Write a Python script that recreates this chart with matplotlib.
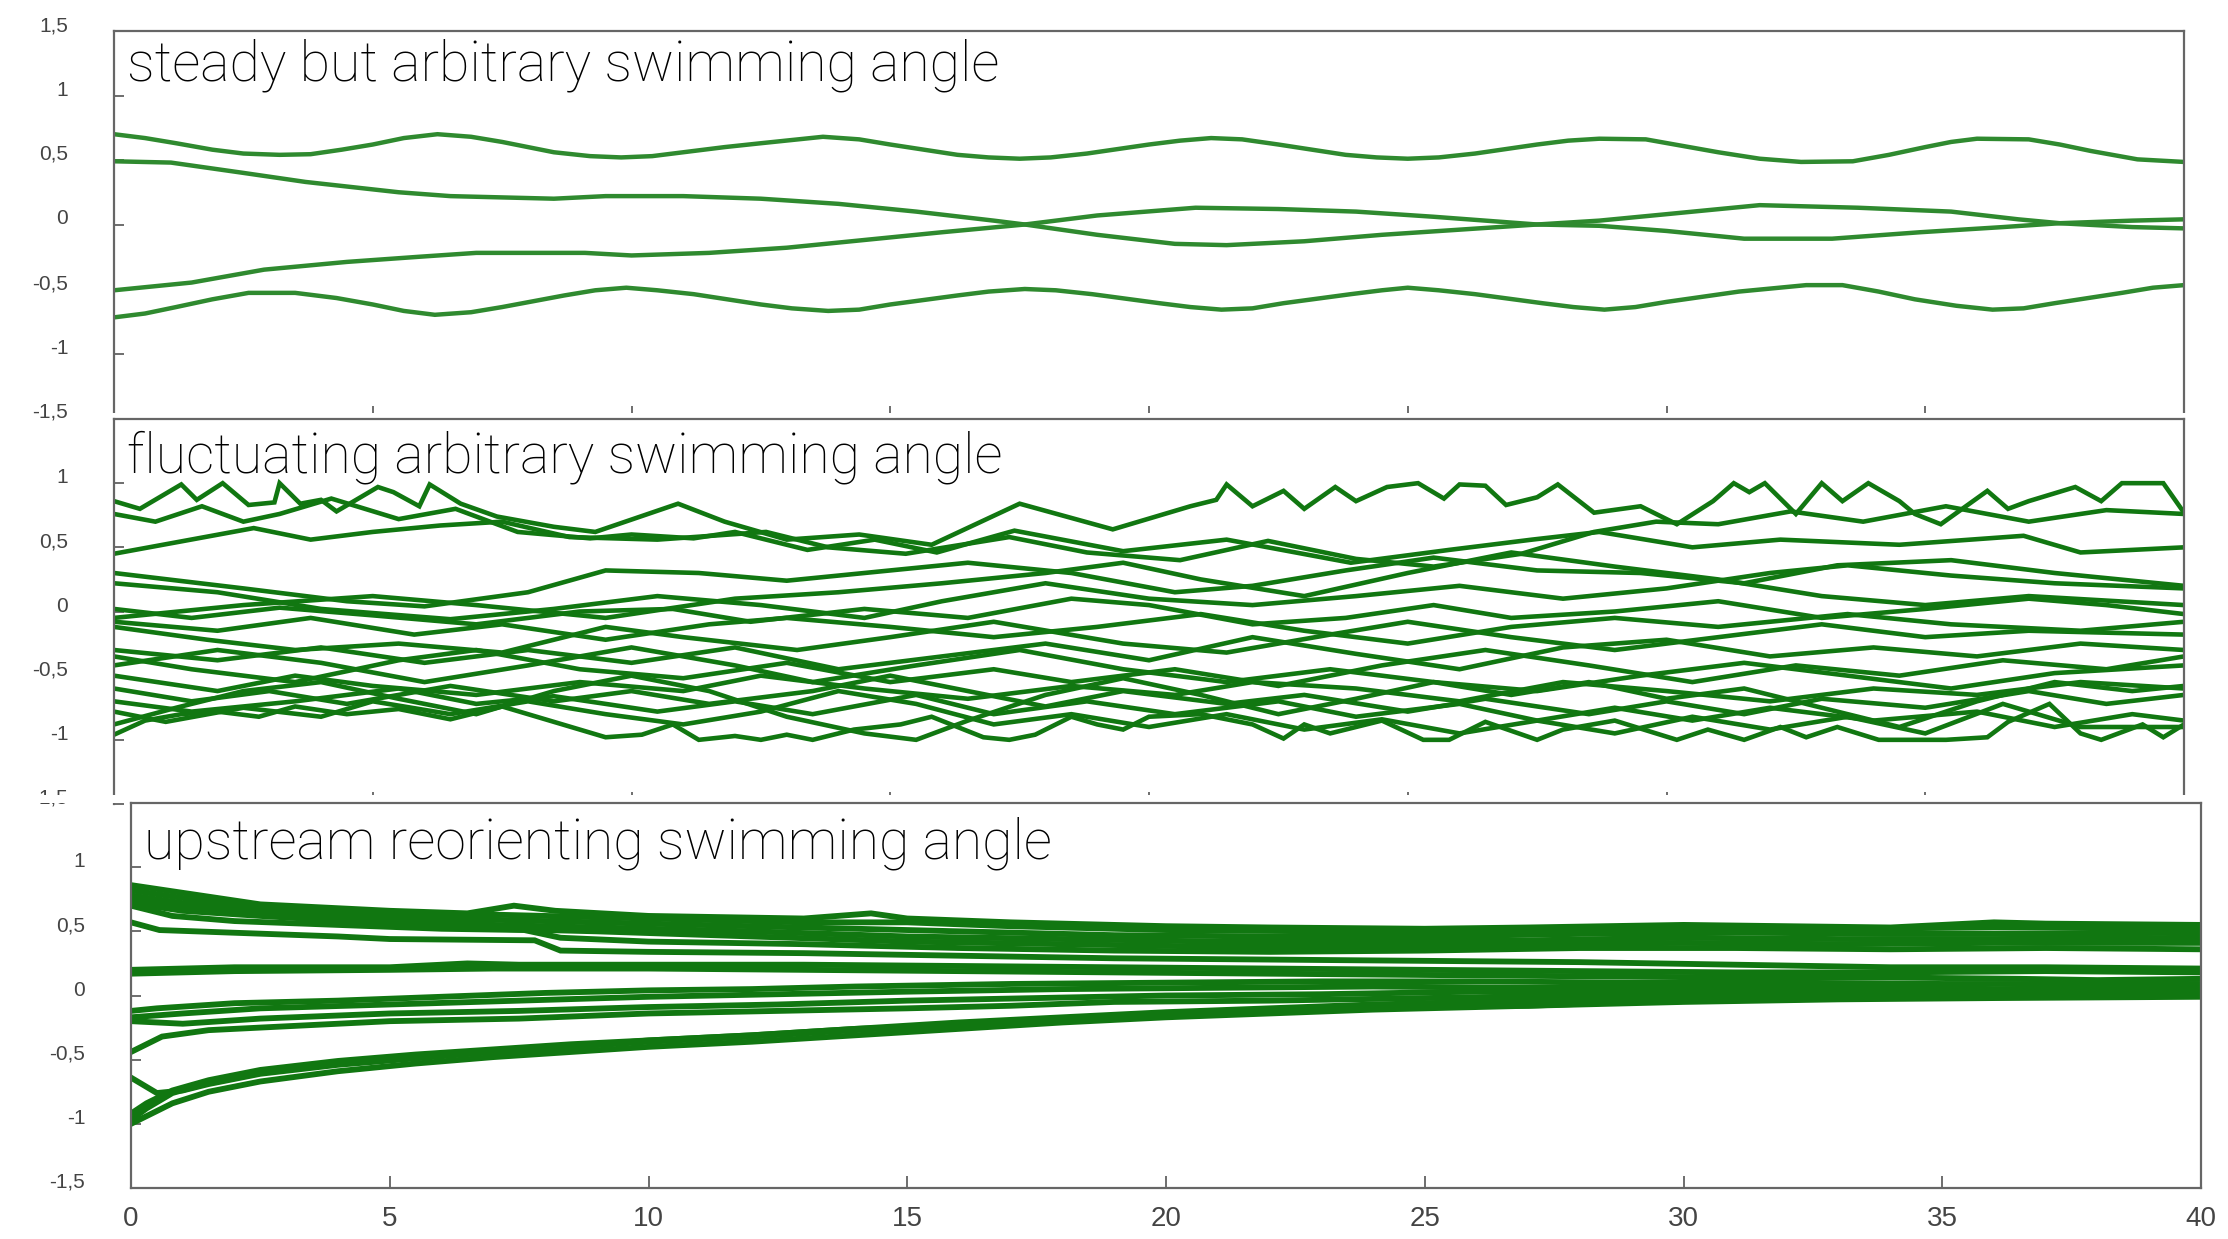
import matplotlib.pyplot as plt
from matplotlib.patches import Rectangle

# titles of the three panels
titles = ['steady but arbitrary swimming angle',
          'fluctuating arbitrary swimming angle',
          'upstream reorienting swimming angle']

y_ticks = [-1.5, -1, -0.5, 0, 0.5, 1, 1.5]
x_ticks = [0, 5, 10, 15, 20, 25, 30, 35, 40]

# panel 1: steady swimmers, (time, angle) points
steady_a = [(0, 0.70), (0.6, 0.67), (1.2, 0.63), (1.9, 0.58), (2.5, 0.55), (3.2, 0.54),
            (3.8, 0.545), (4.4, 0.58), (5.0, 0.62), (5.6, 0.67), (6.25, 0.70), (6.9, 0.68),
            (7.5, 0.64), (8.5, 0.56), (9.2, 0.53), (9.8, 0.52), (10.4, 0.53), (11, 0.56),
            (11.8, 0.60), (12.5, 0.63), (13.7, 0.68), (14.4, 0.66), (15, 0.62), (16.3, 0.54),
            (16.9, 0.52), (17.5, 0.51), (18.1, 0.52), (18.8, 0.55), (20, 0.62), (20.6, 0.65),
            (21.2, 0.67), (21.8, 0.66), (22.5, 0.62), (23.8, 0.54), (24.4, 0.52), (25, 0.51),
            (25.6, 0.52), (26.3, 0.55), (27.5, 0.62), (28.1, 0.65), (28.7, 0.665), (29.6, 0.66),
            (30.3, 0.61), (31, 0.56), (31.8, 0.51), (32.6, 0.485), (33.6, 0.49), (34.3, 0.54),
            (35, 0.60), (35.5, 0.64), (36.0, 0.665), (37, 0.66), (37.6, 0.62), (38.2, 0.57),
            (39.1, 0.505), (40, 0.485)]
steady_b = [(0, 0.49), (1.1, 0.48), (2.5, 0.40), (3.7, 0.33), (5.5, 0.25), (6.5, 0.22),
            (7.5, 0.21), (8.5, 0.20), (9.5, 0.22), (11, 0.22), (12.5, 0.20), (14, 0.16),
            (15.5, 0.10), (17, 0.03), (17.6, 0.0), (19, -0.08), (20.5, -0.15), (21.5, -0.16),
            (23, -0.13), (24.5, -0.08), (26, -0.04), (27.5, 0.0), (28.7, 0.03), (30, 0.08),
            (31.8, 0.15), (33.7, 0.13), (35.5, 0.10), (36.8, 0.04), (37.6, 0.01), (39, -0.02),
            (40, -0.03)]
steady_c = [(0, -0.51), (1.5, -0.45), (2.9, -0.35), (4.5, -0.29), (5.9, -0.25), (7, -0.22),
            (9.1, -0.22), (10, -0.24), (11.5, -0.22), (13, -0.18), (14.5, -0.12), (16, -0.06),
            (17.6, 0.0), (19, 0.07), (20.9, 0.13), (22.5, 0.12), (24, 0.10), (25.5, 0.06),
            (27.5, 0.0), (28.7, -0.01), (30, -0.05), (31.5, -0.11), (33.2, -0.11), (34.9, -0.06),
            (36.5, -0.02), (37.6, 0.01), (39, 0.03), (40, 0.04)]
steady_d = [(0, -0.72), (0.6, -0.69), (1.2, -0.64), (1.9, -0.58), (2.6, -0.53), (3.5, -0.53),
            (4.3, -0.57), (5.0, -0.62), (5.6, -0.67), (6.2, -0.70), (6.9, -0.68), (7.5, -0.64),
            (8.7, -0.55), (9.3, -0.51), (9.9, -0.49), (10.5, -0.51), (11.2, -0.54), (12.5, -0.62),
            (13.1, -0.65), (13.8, -0.67), (14.4, -0.66), (15, -0.62), (16.3, -0.55), (16.9, -0.52),
            (17.6, -0.50), (18.2, -0.51), (18.9, -0.54), (20.2, -0.61), (20.8, -0.64), (21.4, -0.66),
            (22.0, -0.65), (22.6, -0.61), (23.9, -0.54), (24.5, -0.51), (25, -0.49), (25.6, -0.51),
            (26.3, -0.54), (27.6, -0.61), (28.2, -0.64), (28.8, -0.66), (29.4, -0.64), (30, -0.60),
            (31.4, -0.52), (32.7, -0.47), (33.4, -0.47), (34.1, -0.52), (34.8, -0.58),
            (35.6, -0.63), (36.3, -0.66), (36.9, -0.65), (37.5, -0.61), (38.8, -0.53),
            (39.4, -0.49), (40, -0.47)]
steady = [steady_a, steady_b, steady_c, steady_d]

# panel 2: fluctuating swimmers
fluct = [
    [(0, 0.86), (0.5, 0.80), (1.3, 0.99), (1.6, 0.87), (2.1, 1.0), (2.6, 0.83), (3.1, 0.85),
     (3.2, 1.0), (3.6, 0.84), (4.0, 0.87), (4.3, 0.78), (5.1, 0.97), (5.4, 0.93), (5.9, 0.82),
     (6.1, 0.99), (6.7, 0.84), (7.4, 0.74), (8.5, 0.66), (9.3, 0.62), (10.9, 0.84), (11.8, 0.70),
     (13.0, 0.56), (14.4, 0.60), (15.8, 0.52), (17.5, 0.84), (19.3, 0.64), (20.8, 0.82),
     (21.3, 0.87), (21.5, 0.99), (22.0, 0.82), (22.6, 0.94), (23.0, 0.80), (23.6, 0.97),
     (24.0, 0.86), (24.6, 0.97), (25.2, 1.0), (25.7, 0.88), (26.0, 0.99), (26.5, 0.98),
     (26.9, 0.83), (27.5, 0.89), (27.9, 0.99), (28.6, 0.77), (29.5, 0.82), (30.2, 0.68),
     (30.9, 0.86), (31.3, 1.0), (31.6, 0.93), (31.9, 1.0), (32.5, 0.76), (33.0, 1.0),
     (33.4, 0.86), (33.9, 1.0), (34.5, 0.86), (34.8, 0.76), (35.3, 0.68), (36.2, 0.94),
     (36.6, 0.80), (37.0, 0.86), (37.9, 0.97), (38.4, 0.86), (38.8, 1.0), (39.6, 1.0), (40, 0.77)],
    [(0, 0.76), (0.8, 0.70), (1.7, 0.82), (2.5, 0.70), (3.2, 0.76), (4.2, 0.88), (5.5, 0.72),
     (6.6, 0.80), (7.8, 0.62), (9.2, 0.57), (10.0, 0.60), (11.2, 0.57), (12.0, 0.62), (13.4, 0.48),
     (14.7, 0.56), (15.9, 0.46), (17.4, 0.63), (19.5, 0.47), (21.5, 0.56), (23.9, 0.38),
     (25.8, 0.48), (27.4, 0.56), (28.7, 0.62), (30.5, 0.50), (32.2, 0.56), (34.5, 0.52),
     (36.9, 0.59), (38.0, 0.46), (40, 0.50)],
    [(0, 0.45), (2.7, 0.65), (3.8, 0.56), (5.0, 0.62), (6.3, 0.67), (7.5, 0.70), (8.8, 0.58),
     (10.5, 0.56), (12.6, 0.62), (13.8, 0.50), (15.3, 0.45), (17.3, 0.58), (18.8, 0.46),
     (20.6, 0.40), (22.3, 0.55), (24.0, 0.41), (25.5, 0.35), (27.2, 0.45), (28.6, 0.62),
     (29.8, 0.70), (31.0, 0.68), (32.4, 0.78), (33.8, 0.70), (35.4, 0.82), (37.0, 0.70),
     (38.5, 0.79), (40, 0.76)],
    [(0, 0.30), (2.5, 0.18), (4.5, 0.08), (6.0, 0.04), (8.0, 0.15), (9.5, 0.32), (11.3, 0.30),
     (13.0, 0.24), (14.5, 0.30), (16.5, 0.38), (18.5, 0.30), (20.5, 0.15), (22.0, 0.20),
     (23.8, 0.32), (25.5, 0.42), (27.5, 0.32), (29.5, 0.30), (31.5, 0.22), (33.3, 0.36),
     (35.5, 0.40), (37.5, 0.30), (40, 0.20)],
    [(0, 0.22), (2.0, 0.15), (4.0, 0.02), (6.5, -0.06), (8.5, 0.02), (10.5, 0.12), (12.5, 0.05),
     (14.5, -0.05), (16.0, 0.08), (18.0, 0.22), (20.0, 0.10), (22.0, 0.05), (24.0, 0.12),
     (26.0, 0.20), (28.0, 0.10), (30.0, 0.18), (32.0, 0.30), (33.5, 0.36), (35.5, 0.28),
     (37.5, 0.22), (40, 0.18)],
    [(0, 0.02), (1.5, -0.05), (3.2, 0.03), (5.0, -0.03), (7.0, -0.10), (9.0, 0.0), (10.8, 0.02),
     (12.3, -0.08), (14.5, 0.02), (16.5, -0.05), (18.5, 0.10), (20.0, 0.05), (22.0, -0.10),
     (23.8, -0.05), (25.5, 0.05), (27.0, -0.05), (29.0, 0.0), (31.0, 0.08), (33.0, -0.05),
     (35.0, 0.02), (37.0, 0.10), (38.5, 0.05), (40, -0.02)],
    [(0, -0.08), (2.0, -0.15), (3.8, -0.05), (5.8, -0.18), (7.5, -0.10), (9.5, -0.22),
     (11.5, -0.10), (13.0, -0.05), (15.0, -0.12), (17.0, -0.20), (19.0, -0.12), (21.0, -0.02),
     (23.0, -0.15), (25.0, -0.25), (27.0, -0.12), (29.0, -0.05), (31.0, -0.12), (33.5, -0.02),
     (35.5, -0.10), (38.0, -0.15), (40, -0.08)],
    [(0, -0.12), (1.8, -0.22), (3.5, -0.30), (5.5, -0.25), (7.5, -0.32), (9.5, -0.12),
     (11.0, -0.20), (13.2, -0.30), (15.0, -0.20), (17.0, -0.08), (19.5, -0.25), (21.5, -0.32),
     (23.5, -0.18), (25.0, -0.08), (27.0, -0.20), (29.0, -0.30), (31.0, -0.20), (33.0, -0.10),
     (35.0, -0.20), (37.0, -0.15), (40, -0.18)],
    [(0, -0.30), (2.0, -0.38), (4.0, -0.28), (6.0, -0.40), (8.0, -0.30), (10.0, -0.40),
     (12.0, -0.28), (14.0, -0.45), (16.0, -0.35), (18.0, -0.25), (20.0, -0.38), (22.0, -0.20),
     (24.0, -0.33), (26.0, -0.45), (28.0, -0.28), (30.0, -0.22), (32.0, -0.35), (34.0, -0.28),
     (36.0, -0.35), (38.0, -0.25), (40, -0.30)],
    [(0, -0.35), (1.5, -0.45), (3.5, -0.55), (5.5, -0.38), (7.0, -0.30), (9.0, -0.45),
     (11.0, -0.52), (13.0, -0.40), (15.0, -0.55), (17.0, -0.45), (18.5, -0.55), (20.5, -0.45),
     (22.5, -0.58), (24.5, -0.42), (26.5, -0.30), (28.5, -0.42), (30.5, -0.55), (32.5, -0.42),
     (34.5, -0.50), (36.5, -0.38), (38.5, -0.45), (40, -0.35)],
    [(0, -0.42), (2.0, -0.30), (4.0, -0.40), (6.0, -0.55), (8.0, -0.42), (10.0, -0.28),
     (12.0, -0.42), (13.5, -0.55), (15.5, -0.42), (17.5, -0.30), (19.5, -0.45), (21.5, -0.55),
     (23.5, -0.45), (25.5, -0.55), (27.5, -0.62), (29.5, -0.50), (31.5, -0.40), (33.5, -0.50),
     (35.5, -0.60), (37.5, -0.48), (40, -0.42)],
    [(0, -0.50), (2.0, -0.62), (3.5, -0.50), (5.0, -0.58), (7.0, -0.65), (9.0, -0.55),
     (11.0, -0.62), (12.5, -0.50), (14.5, -0.60), (16.5, -0.68), (18.5, -0.58), (20.5, -0.65),
     (22.0, -0.55), (24.0, -0.60), (26.0, -0.70), (28.0, -0.55), (30.0, -0.62), (32.0, -0.70),
     (34.0, -0.60), (36.0, -0.65), (38.0, -0.55), (40, -0.60)],
    [(0, -0.60), (1.5, -0.70), (3.0, -0.62), (4.5, -0.72), (6.5, -0.58), (8.5, -0.70),
     (10.0, -0.62), (11.5, -0.72), (13.5, -0.62), (15.0, -0.50), (16.5, -0.62), (18.0, -0.74),
     (19.5, -0.62), (21.5, -0.72), (23.0, -0.65), (25.0, -0.78), (26.5, -0.68), (28.5, -0.80),
     (30.0, -0.70), (31.5, -0.80), (33.0, -0.68), (35.0, -0.75), (37.0, -0.62), (38.5, -0.72),
     (40, -0.65)],
    [(0, -0.70), (1.5, -0.78), (3.5, -0.70), (5.5, -0.60), (7.0, -0.72), (8.5, -0.66),
     (10.5, -0.78), (12.0, -0.70), (13.5, -0.80), (15.5, -0.65), (17.0, -0.80), (18.8, -0.70),
     (20.5, -0.80), (22.5, -0.70), (24.0, -0.82), (26.0, -0.72), (27.5, -0.85), (29.0, -0.75),
     (30.5, -0.85), (32.0, -0.75), (34.0, -0.85), (36.0, -0.78), (37.5, -0.90), (39.0, -0.80),
     (40, -0.85)],
    [(0, -0.78), (1.0, -0.86), (2.5, -0.75), (4.0, -0.82), (5.0, -0.70), (6.5, -0.80),
     (8.0, -0.70), (9.5, -0.80), (11.0, -0.88), (12.5, -0.78), (14.0, -0.62), (15.5, -0.72),
     (17.0, -0.88), (18.5, -0.80), (20.0, -0.90), (21.5, -0.80), (23.0, -0.92), (24.5, -0.84),
     (26.0, -0.95), (27.5, -0.85), (29.0, -0.95), (30.5, -0.82), (32.0, -0.92), (33.5, -0.82),
     (35.0, -0.95), (36.5, -0.72), (38.0, -0.90), (40, -0.90)],
    [(0, -0.96), (0.6, -0.85), (1.3, -0.80), (2.0, -0.78), (2.8, -0.82), (3.5, -0.74),
     (4.5, -0.80), (5.5, -0.76), (6.5, -0.84), (7.5, -0.74), (8.5, -0.86), (9.5, -0.98),
     (10.2, -0.96), (10.8, -0.88), (11.3, -1.0), (12.0, -0.97), (12.5, -1.0), (13.0, -0.96),
     (13.5, -1.0), (14.3, -0.92), (15.2, -0.88), (15.8, -0.82), (16.8, -0.98), (17.3, -1.0),
     (17.8, -0.96), (18.5, -0.82), (19.0, -0.88), (19.5, -0.92), (20.0, -0.82), (21.0, -0.80),
     (22.0, -0.88), (22.6, -0.99), (23.0, -0.88), (23.5, -0.95), (24.5, -0.85), (25.3, -1.0),
     (25.8, -1.0), (26.5, -0.86), (27.5, -1.0), (28.0, -0.92), (29.0, -0.85), (30.2, -1.0),
     (30.8, -0.92), (31.5, -1.0), (32.2, -0.90), (32.7, -0.98), (33.3, -0.90), (34.1, -1.0),
     (35.4, -1.0), (36.2, -0.98), (36.6, -0.86), (37.4, -0.72), (38.0, -0.95), (38.4, -1.0),
     (39.2, -0.88), (39.6, -0.98), (40, -0.88)],
    [(0, -0.88), (1.2, -0.75), (2.5, -0.62), (4.0, -0.55), (5.5, -0.68), (7.0, -0.80),
     (8.5, -0.62), (10.0, -0.50), (11.5, -0.62), (13.0, -0.82), (14.5, -0.95), (15.5, -1.0),
     (16.5, -0.85), (18.0, -0.65), (19.5, -0.52), (21.0, -0.65), (22.5, -0.80), (24.0, -0.68),
     (25.5, -0.55), (27.0, -0.65), (28.5, -0.55), (30.0, -0.68), (31.5, -0.60), (33.0, -0.75),
     (34.5, -0.90), (36.0, -0.70), (37.5, -0.55), (39.0, -0.62), (40, -0.58)],
    [(0, -0.05), (2.5, 0.05), (5.0, 0.12), (7.0, 0.05), (9.5, -0.05), (12.0, 0.10), (14.0, 0.15),
     (16.0, 0.22), (18.0, 0.30), (19.5, 0.38), (21.0, 0.25), (23.0, 0.12), (25.0, 0.30),
     (27.0, 0.46), (29.0, 0.35), (31.0, 0.25), (33.0, 0.12), (35.0, 0.05), (37.0, 0.12),
     (40, 0.05)],
]

# panel 3: upstream reorienting swimmers
upstream = [
    [(0, 0.86), (1, 0.80), (2.5, 0.71), (5, 0.66), (6.5, 0.64), (7.4, 0.70), (8.2, 0.66),
     (10, 0.62), (13, 0.60), (14.3, 0.64), (15, 0.60), (17, 0.57), (20, 0.54), (22, 0.53),
     (25, 0.52), (27, 0.53), (30, 0.55), (32, 0.54), (34, 0.53), (36, 0.57), (37, 0.56), (40, 0.55)],
    [(0, 0.82), (1, 0.76), (2.5, 0.69), (5, 0.64), (7, 0.63), (8, 0.62), (10, 0.60), (13, 0.57),
     (15, 0.57), (17, 0.54), (20, 0.51), (23, 0.50), (26, 0.50), (30, 0.52), (33, 0.52),
     (36, 0.53), (40, 0.52)],
    [(0, 0.78), (1, 0.72), (2.5, 0.66), (5, 0.61), (7, 0.59), (9, 0.57), (11, 0.55), (13, 0.53),
     (16, 0.50), (19, 0.47), (22, 0.46), (25, 0.46), (28, 0.48), (31, 0.49), (34, 0.48),
     (37, 0.48), (40, 0.49)],
    [(0, 0.75), (1, 0.69), (2.5, 0.64), (5, 0.58), (7, 0.55), (9, 0.53), (12, 0.50), (15, 0.46),
     (18, 0.44), (21, 0.42), (24, 0.42), (27, 0.43), (30, 0.45), (33, 0.44), (36, 0.44), (40, 0.45)],
    [(0, 0.72), (1, 0.66), (2.5, 0.62), (5, 0.56), (7, 0.52), (9, 0.50), (12, 0.46), (15, 0.42),
     (18, 0.40), (21, 0.38), (24, 0.38), (27, 0.40), (30, 0.41), (33, 0.40), (36, 0.41), (40, 0.41)],
    [(0, 0.70), (0.8, 0.62), (2, 0.58), (4, 0.55), (6, 0.52), (7.6, 0.51), (8.3, 0.45), (10, 0.42),
     (13, 0.40), (16, 0.37), (19, 0.35), (22, 0.34), (25, 0.35), (28, 0.37), (31, 0.37),
     (34, 0.36), (37, 0.37), (40, 0.36)],
    [(0, 0.57), (0.55, 0.51), (4, 0.46), (5, 0.44), (7.8, 0.43), (8.3, 0.35), (10, 0.34),
     (13, 0.33), (16, 0.31), (19, 0.29), (22, 0.28), (25, 0.27), (28, 0.26), (31, 0.24),
     (34, 0.22), (37, 0.22), (40, 0.21)],
    [(0, 0.20), (2, 0.22), (5, 0.22), (6.5, 0.25), (7.5, 0.24), (10, 0.24), (13, 0.24), (16, 0.23),
     (19, 0.22), (22, 0.21), (25, 0.20), (28, 0.19), (31, 0.18), (34, 0.18), (37, 0.19), (40, 0.18)],
    [(0, 0.17), (2, 0.19), (5, 0.20), (7, 0.21), (10, 0.21), (13, 0.20), (16, 0.19), (19, 0.18),
     (22, 0.17), (25, 0.16), (28, 0.15), (31, 0.14), (34, 0.14), (36.5, 0.13), (38, 0.12), (40, 0.13)],
    [(0, -0.12), (0.5, -0.10), (2, -0.06), (4, -0.04), (6, -0.01), (8, 0.02), (10, 0.04),
     (12, 0.05), (14, 0.07), (17, 0.09), (20, 0.10), (23, 0.11), (26, 0.11), (29, 0.10),
     (32, 0.10), (35, 0.09), (37, 0.09), (40, 0.09)],
    [(0, -0.17), (1, -0.14), (2.5, -0.10), (5, -0.07), (7.5, -0.04), (10, -0.01), (12.5, 0.01),
     (15, 0.03), (18, 0.05), (21, 0.06), (24, 0.07), (27, 0.06), (30, 0.06), (33, 0.07),
     (36, 0.05), (40, 0.06)],
    [(0, -0.20), (1, -0.22), (2.5, -0.18), (5, -0.14), (7.5, -0.12), (10, -0.09), (12.5, -0.07),
     (15, -0.04), (17.5, -0.02), (20, 0.0), (23, 0.01), (26, 0.03), (29, 0.02), (32, 0.03),
     (35, 0.04), (38, 0.04), (40, 0.04)],
    [(0, -0.44), (0.6, -0.32), (1.5, -0.27), (3, -0.24), (5, -0.20), (7.5, -0.18), (10, -0.14),
     (12.5, -0.12), (15, -0.10), (17, -0.08), (19, -0.05), (22, -0.04), (25, -0.02), (28, 0.0),
     (31, 0.01), (34, 0.02), (37, 0.02), (40, 0.03)],
    [(0, -0.97), (0.3, -0.88), (0.8, -0.76), (1.5, -0.68), (2.5, -0.60), (4, -0.53), (5.5, -0.48),
     (7, -0.44), (8.5, -0.40), (10, -0.36), (12, -0.32), (14, -0.27), (16, -0.22), (18, -0.18),
     (20, -0.14), (22, -0.11), (24, -0.08), (26, -0.06), (28, -0.04), (30, -0.03), (33, -0.01),
     (36, 0.0), (40, 0.01)],
    [(0, -1.0), (0.3, -0.94), (0.8, -0.84), (1.5, -0.75), (2.5, -0.67), (4, -0.59), (5.5, -0.53),
     (7, -0.48), (8.5, -0.44), (10, -0.40), (12, -0.36), (14, -0.31), (16, -0.26), (18, -0.21),
     (20, -0.17), (22, -0.14), (24, -0.11), (26, -0.09), (28, -0.07), (30, -0.05), (33, -0.03),
     (36, -0.02), (40, -0.01)],
    [(0, -0.92), (0.3, -0.84), (0.8, -0.74), (1.5, -0.66), (2.5, -0.58), (4, -0.51), (5.5, -0.46),
     (7, -0.42), (8.5, -0.38), (10, -0.35), (12, -0.31), (14, -0.26), (15.5, -0.24), (17, -0.20),
     (19, -0.16), (21, -0.13), (23, -0.10), (25, -0.08), (27, -0.08), (29, -0.05), (32, -0.03),
     (35, -0.01), (38, 0.0), (40, 0.0)],
    [(0, -0.64), (0.5, -0.76), (1.0, -0.74), (1.5, -0.69), (2.5, -0.61), (4, -0.54), (5.5, -0.49),
     (7, -0.44), (8.5, -0.40), (10, -0.35), (12, -0.31), (14, -0.26), (16, -0.21), (18, -0.17),
     (20, -0.13), (22, -0.10), (24, -0.07), (26, -0.05), (28, -0.03), (30, -0.02), (33, 0.0),
     (36, 0.01), (40, 0.02)],
]

W, H = 2228, 1239
fig = plt.figure(figsize=(W / 100, H / 100), dpi=100)


def rect(l, t, r, b):
    # pixel box (from top-left) -> figure fraction
    return [l / W, 1 - b / H, (r - l) / W, (b - t) / H]


ax1 = fig.add_axes(rect(114, 31, 2184, 418))
ax2 = fig.add_axes(rect(114, 419, 2184, 804))
ax3 = fig.add_axes(rect(131, 803, 2201, 1188))
ax1.set_zorder(1)
ax2.set_zorder(3)
ax3.set_zorder(5)

# each panel was pasted over the bottom of the one above
fig.patches.append(Rectangle((100 / W, 1 - 419 / H), 1, 6 / H, transform=fig.transFigure,
                             facecolor='white', edgecolor='none', zorder=2))
fig.patches.append(Rectangle((0, 1 - 803 / H), 1, 8 / H, transform=fig.transFigure,
                             facecolor='white', edgecolor='none', zorder=4))

ylabels = [str(v).replace('.', ',').replace(',0', '') if v != 0 else '0' for v in y_ticks]

panels = [(ax1, steady, '#2f8a2f', 3.2, -50), (ax2, fluct, '#117711', 3.3, -53),
          (ax3, upstream, '#117711', 4.2, -56)]
for i, (ax, curves, col, lw, ty) in enumerate(panels):
    for pts in curves:
        ax.plot([p[0] for p in pts], [p[1] for p in pts], color=col, lw=lw,
                solid_joinstyle='miter')
    ax.set_xlim(0, 40)
    ax.set_ylim(-1.5, 1.5)
    labs = list(ylabels)
    if i > 0:
        labs[-1] = ''
    ax.set_yticks(y_ticks, labs)
    for s in ax.spines.values():
        s.set_color('#666666')
        s.set_linewidth(1.6)
    ax.tick_params(direction='in', color='#555555', width=1.2, length=7,
                   labelsize=15, labelcolor='#444444', pad=33)
    for lab in ax.get_yticklabels():
        lab.set_fontfamily('Liberation Sans')
        lab.set_verticalalignment('baseline')
    ax.annotate(titles[i], xy=(0, 1), xycoords='axes fraction', xytext=(13, ty),
                textcoords='offset pixels', va='baseline', ha='left',
                fontsize=40, family='Roboto', fontweight='light', color='black')
    if i < 2:
        ax.spines['bottom'].set_visible(False)
        ax.set_xticks(x_ticks[1:-1], [''] * 7)
        ax.tick_params(axis='x', length=9)
    else:
        ax.set_xticks(x_ticks, [str(v) for v in x_ticks])
        ax.tick_params(axis='x', labelsize=20, pad=13, length=9)
        for lab in ax.get_xticklabels():
            lab.set_fontfamily('Liberation Sans')

fig.savefig('out.png', dpi=100, facecolor='white')
